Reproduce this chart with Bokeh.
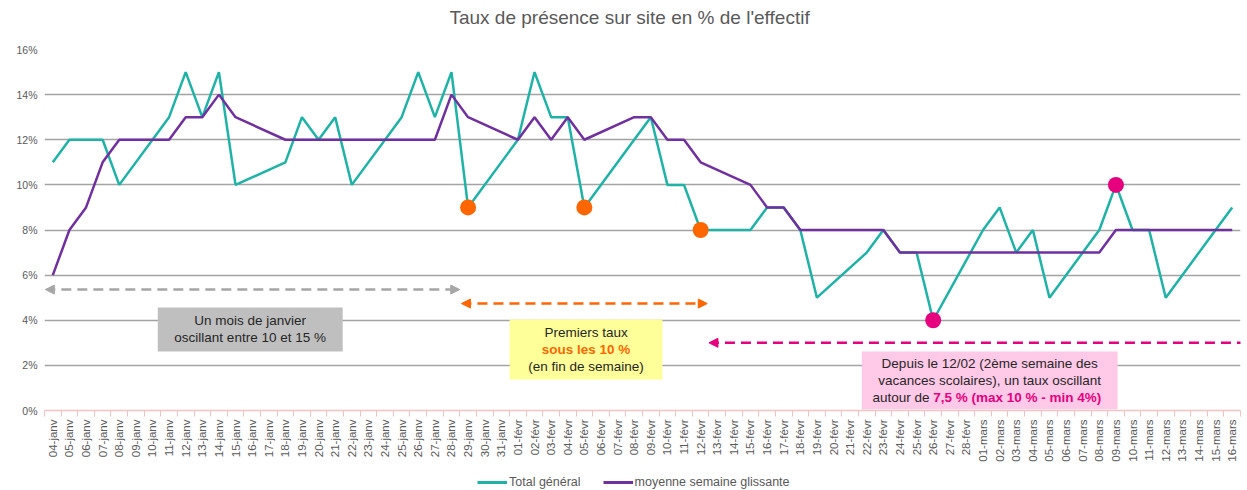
import numpy as np
from bokeh.plotting import figure
from bokeh.layouts import column
from bokeh.models import (Range1d, FixedTicker, ColumnDataSource, Arrow, NormalHead,
                          BoxAnnotation, Label, Legend, LegendItem)
from bokeh.embed import file_html
from bokeh.resources import INLINE

# ---------------- data ----------------
months = [("janv", 4, 31), ("févr", 1, 28), ("mars", 1, 16)]
dates = [f"{d:02d}-{m}" for m, a, b in months for d in range(a, b + 1)]

N = None
total_general = [
    11, 12, 12, 12, 10, N, N,
    13, 15, 13, 15, 10, N, N,
    11, 13, 12, 13, 10, N, N,
    13, 15, 13, 15, 9, N, N,
    12, 15, 13, 13, 9, N, N,
    12, 13, 10, 10, 8, N, N,
    8, 9, 9, 8, 5, N, N,
    7, 8, 7, 7, 4, N, N,
    8, 9, 7, 8, 5, N, N,
    8, 10, 8, 8, 5, N, N,
    8, 9,
]
moyenne_glissante = [
    6, 8, 9, 11, 12, N, N,
    12, 13, 13, 14, 13, N, N,
    12, 12, 12, 12, 12, N, N,
    12, 12, 12, 14, 13, N, N,
    12, 13, 12, 13, 12, N, N,
    13, 13, 12, 12, 11, N, N,
    10, 9, 9, 8, 8, N, N,
    8, 8, 7, 7, 7, N, N,
    7, 7, 7, 7, 7, N, N,
    7, 8, 8, 8, 8, N, N,
    8, 8,
]
orange_days = ["29-janv", "05-févr", "12-févr"]
pink_days = ["26-févr", "09-mars"]
y_ticks = [0, 2, 4, 6, 8, 10, 12, 14, 16]
series_names = ["Total général", "moyenne semaine glissante"]
title_text = "Taux de présence sur site en % de l'effectif"

# ---------------- styling ----------------
TEAL = "#1FB2A6"
PURPLE = "#7030A0"
ORANGE = "#FF6600"
PINK = "#E6007E"
GREY_TXT = "#595959"
FONT = "Liberation Sans"

idx = list(range(len(dates)))
def valid(series):
    xs = [i for i, v in zip(idx, series) if v is not None]
    ys = [v for v in series if v is not None]
    return ColumnDataSource(dict(x=xs, y=ys))

src_total = valid(total_general)
src_moy = valid(moyenne_glissante)
xr = Range1d(-0.5, len(dates) - 0.5)

# ---------------- title strip ----------------
pt = figure(width=1246, height=34, x_range=xr, y_range=Range1d(0, 1), title=None,
            output_backend="svg", toolbar_location=None, min_border=0)
pt.axis.visible = False
pt.grid.visible = False
pt.outline_line_color = None
pt.add_layout(Label(x=34.72, y=0.5, text=title_text, text_font=FONT, text_font_size="19px",
                    text_color=GREY_TXT, text_align="center", text_baseline="middle"))

# ---------------- main chart ----------------
p = figure(width=1246, height=433, x_range=xr, title=None,
           y_range=Range1d(0, 16), output_backend="svg", toolbar_location=None,
           min_border_left=44, min_border_right=6, min_border_top=15, min_border_bottom=57)
p.outline_line_color = None
p.background_fill_color = "white"

# y axis
p.yaxis.ticker = FixedTicker(ticks=y_ticks)
p.yaxis.major_label_overrides = {t: f"{t}%" for t in y_ticks}
p.yaxis.axis_line_color = None
p.yaxis.major_tick_line_color = None
p.yaxis.major_tick_out = 0
p.yaxis.minor_tick_line_color = None
p.yaxis.minor_tick_out = 0
p.yaxis.major_label_text_font = FONT
p.yaxis.major_label_text_font_size = "10.5px"
p.yaxis.major_label_text_color = GREY_TXT
p.yaxis.major_label_standoff = 7
p.ygrid.ticker = FixedTicker(ticks=y_ticks[1:])
p.ygrid.grid_line_color = "#A3A3A3"
p.ygrid.grid_line_width = 1.5

# x axis
p.xaxis.ticker = FixedTicker(ticks=idx, minor_ticks=[i - 0.5 for i in range(len(dates) + 1)])
p.xaxis.major_label_overrides = {i: d for i, d in zip(idx, dates)}
p.xaxis.major_label_orientation = np.pi / 2
p.xaxis.major_tick_line_color = None
p.xaxis.major_tick_out = 6
p.xaxis.minor_tick_line_color = "#F4C2C2"
p.xaxis.minor_tick_out = 6
p.xaxis.minor_tick_in = 0
p.xaxis.axis_line_color = "#F4C2C2"
p.xaxis.axis_line_width = 1.5
p.xaxis.major_label_text_font = FONT
p.xaxis.major_label_text_font_size = "11.5px"
p.xaxis.major_label_text_color = GREY_TXT
p.xaxis.major_label_standoff = 3
p.xgrid.grid_line_color = None

# annotation boxes
boxes = [
    (6.32, 17.45, 4.57, 2.62, "#BFBFBF"),
    (27.5, 36.7, 4.03, 1.37, "#FFFF99"),
    (48.7, 64.1, 2.62, 0.05, "#FFC9E7"),
]
for l, r, t, b, c in boxes:
    p.add_layout(BoxAnnotation(left=l, right=r, top=t, bottom=b, fill_color=c,
                               fill_alpha=1, line_color=None, level="underlay"))

def lab(x, y, text, color="#262626", bold=False, align="center"):
    p.add_layout(Label(x=x, y=y, text=text, text_font=FONT, text_font_size="13.5px",
                       text_color=color, text_align=align, text_baseline="middle",
                       text_font_style="bold" if bold else "normal"))

lab(11.88, 3.99, "Un mois de janvier")
lab(11.88, 3.24, "oscillant entre 10 et 15 %")
lab(32.1, 3.46, "Premiers taux")
lab(32.1, 2.70, "sous les 10 %", ORANGE, True)
lab(32.1, 1.95, "(en fin de semaine)")
lab(56.4, 2.08, "Depuis le 12/02 (2ème semaine des")
lab(56.4, 1.33, "vacances scolaires), un taux oscillant")
lab(53.0, 0.58, "autour de ", align="right")
lab(53.0, 0.58, "7,5 % (max 10 % - min 4%)", PINK, True, align="left")

# arrows
def arrow(x0, x1, y, color, start=True, end=True):
    kw = dict(size=9, fill_color=color, line_color=color, line_width=1)
    p.add_layout(Arrow(x_start=x0, y_start=y, x_end=x1, y_end=y,
                       start=NormalHead(**kw) if start else None,
                       end=NormalHead(**kw) if end else None,
                       line_color=color, line_width=2.5, line_dash="10 6"))

arrow(-0.45, 24.5, 5.36, "#A6A6A6")
arrow(24.6, 39.4, 4.74, ORANGE)
arrow(39.5, 72.5, 3.0, PINK, start=True, end=False)

# series
p.line("x", "y", source=src_total, line_color=TEAL, line_width=2.5)
p.line("x", "y", source=src_moy, line_color=PURPLE, line_width=2.5)

oi = [dates.index(d) for d in orange_days]
pi_ = [dates.index(d) for d in pink_days]
p.scatter(oi, [total_general[i] for i in oi], size=16, fill_color=ORANGE, line_color=None)
p.scatter(pi_, [total_general[i] for i in pi_], size=16, fill_color=PINK, line_color=None)

# ---------------- legend strip ----------------
pl = figure(width=1246, height=22, x_range=xr, title=None,
            y_range=Range1d(100, 101), output_backend="svg", toolbar_location=None,
            min_border=0)
pl.axis.visible = False
pl.grid.visible = False
pl.outline_line_color = None
d1 = pl.line("x", "y", source=src_total, line_color=TEAL, line_width=3)
d2 = pl.line("x", "y", source=src_moy, line_color=PURPLE, line_width=3)
legend = Legend(items=[LegendItem(label=series_names[0], renderers=[d1]),
                       LegendItem(label=series_names[1], renderers=[d2])],
                orientation="horizontal", location=(433, 0),
                border_line_color=None, background_fill_alpha=0,
                label_text_font=FONT, label_text_font_size="12.5px", label_text_color=GREY_TXT,
                glyph_width=30, glyph_height=12, spacing=22, padding=2, margin=0,
                label_standoff=2)
pl.add_layout(legend)

open("out.html", "w").write(file_html(column(pt, p, pl, spacing=0), INLINE))
